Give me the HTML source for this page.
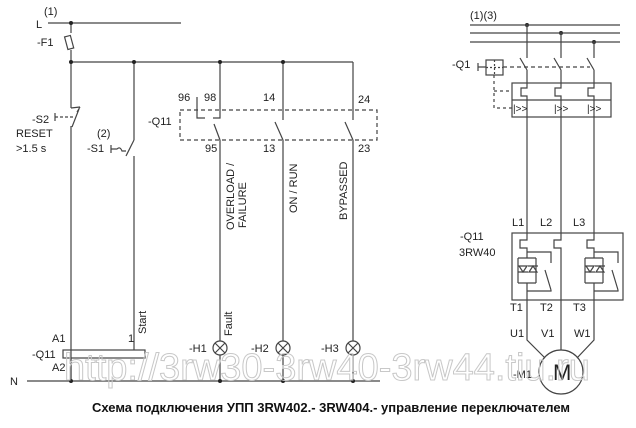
<!DOCTYPE html>
<html><head><meta charset="utf-8"><style>
body{margin:0;background:#fff;width:636px;height:428px;overflow:hidden}
svg{display:block}
text{font-family:"Liberation Sans",sans-serif;font-size:11px;fill:#222}
.cap{font-family:"Liberation Sans Narrow","Liberation Sans",sans-serif;font-size:13px;font-weight:bold;fill:#111}
.wm{font-family:"Liberation Sans",sans-serif;font-size:38px;fill:none;stroke:#c8c8c8;stroke-width:1}
</style></head><body>
<svg width="636" height="428" viewBox="0 0 636 428" stroke="#444" stroke-width="1.2" fill="none">
<line x1="48" y1="23" x2="181" y2="23"/>
<line x1="71" y1="23" x2="71" y2="33"/>
<rect x="66" y="36" width="6" height="13" transform="rotate(-15 69 42)"/>
<line x1="71" y1="50" x2="71" y2="62"/>
<line x1="71" y1="62" x2="353" y2="62"/>
<line x1="71" y1="62" x2="71" y2="108"/>
<line x1="71" y1="108" x2="80" y2="107"/><line x1="80" y1="107" x2="77" y2="112"/>
<line x1="72" y1="127" x2="79" y2="109"/>
<line x1="55" y1="117" x2="75" y2="117" stroke-dasharray="3,2"/>
<line x1="55" y1="113" x2="55" y2="121"/>
<line x1="71" y1="126" x2="71" y2="381"/>
<line x1="134" y1="62" x2="134" y2="140"/>
<line x1="134" y1="140" x2="126" y2="156"/>
<path d="M111 145 L111 153 M111 149 L117 149 Q120 146 122 151 L126 151"/>
<line x1="134" y1="156" x2="134" y2="350"/>
<rect x="180" y="110" width="197" height="30" stroke-dasharray="4,3"/>
<path d="M197 97 L197 118 L205 118 M213 118 L220 118 L220 62"/>
<line x1="220" y1="140" x2="214" y2="124"/>
<line x1="220" y1="140" x2="220" y2="341"/>
<line x1="283" y1="62" x2="283" y2="120"/><line x1="283" y1="140" x2="275" y2="122"/>
<line x1="283" y1="140" x2="283" y2="341"/>
<line x1="353" y1="62" x2="353" y2="120"/><line x1="353" y1="140" x2="345" y2="122"/>
<line x1="353" y1="140" x2="353" y2="341"/>
<rect x="63" y="350" width="82" height="8"/>
<line x1="71" y1="358" x2="71" y2="381"/>
<g>
<circle cx="220" cy="348" r="7"/><path d="M215 343 L225 353 M225 343 L215 353"/>
<circle cx="283" cy="348" r="7"/><path d="M278 343 L288 353 M288 343 L278 353"/>
<circle cx="353" cy="348" r="7"/><path d="M348 343 L358 353 M358 343 L348 353"/>
<line x1="220" y1="355" x2="220" y2="381"/><line x1="283" y1="355" x2="283" y2="381"/><line x1="353" y1="355" x2="353" y2="381"/>
</g>
<line x1="27" y1="381" x2="380" y2="381"/>
<g fill="#222" stroke="none">
<circle cx="71" cy="23" r="2"/><circle cx="71" cy="62" r="2"/><circle cx="134" cy="62" r="2"/><circle cx="220" cy="62" r="2"/><circle cx="283" cy="62" r="2"/>
<circle cx="71" cy="381" r="2"/><circle cx="220" cy="381" r="2"/><circle cx="283" cy="381" r="2"/><circle cx="353" cy="381" r="2"/>
<circle cx="527" cy="25" r="2"/><circle cx="561" cy="33" r="2"/><circle cx="594" cy="42" r="2"/>
</g>
<line x1="470" y1="25" x2="620" y2="25"/><line x1="470" y1="33" x2="620" y2="33"/><line x1="470" y1="42" x2="620" y2="42"/>
<g>
<path d="M527 25 L527 58 M527 70 L520 58 M527 70 L527 83"/>
<path d="M561 33 L561 58 M561 70 L554 58 M561 70 L561 83"/>
<path d="M594 42 L594 58 M594 70 L587 58 M594 70 L594 83"/>
</g>
<rect x="486" y="60" width="17" height="15"/><path d="M494.5 60 V75 M486 67.5 H503" stroke-dasharray="2,2"/>
<path d="M478 63 V71 M478 67 H486"/>
<path d="M503 67 H590" stroke-dasharray="4,3"/>
<path d="M494 75 V108 H512 M494 91 H512" stroke-dasharray="3,3"/>
<rect x="512" y="83" width="99" height="34"/><line x1="512" y1="100" x2="611" y2="100"/>
<path d="M527 83 V88 H521 V96 H527 V117 M561 83 V88 H555 V96 H561 V117 M594 83 V88 H588 V96 H594 V117"/>
<line x1="527" y1="117" x2="527" y2="233"/><line x1="561" y1="117" x2="561" y2="233"/><line x1="594" y1="117" x2="594" y2="233"/>
<rect x="512" y="233" width="111" height="67"/>
<path d="M527 233 V240 H520 V248 H527 V258 M527 283 V300 M561 233 V240 H554 V248 H561 V300 M594 233 V240 H587 V248 H594 V258 M594 283 V300"/>
<path d="M518 258 H536 M518 283 H536 M518 258 V283 M536 258 V283 M519 266 L527 266 L523 272 Z M518 272 H528 M529 272 L537 272 L533 266 Z M528 266 H538"/>
<path d="M527 252 H551 V263 M551 290 L545 270 M551 290 V291 H527"/>
<path d="M585 258 H603 M585 283 H603 M585 258 V283 M603 258 V283 M586 266 L594 266 L590 272 Z M585 272 H595 M596 272 L604 272 L600 266 Z M595 266 H605"/>
<path d="M594 252 H618 V263 M618 290 L612 270 M618 290 V291 H594"/>
<path d="M527 300 V340 L545 358 M561 300 V350 M594 300 V340 L577 358"/>
<circle cx="561" cy="372" r="22"/>
<g stroke="none">
<text x="36" y="28">L</text><text x="44" y="15">(1)</text><text x="37" y="46">-F1</text>
<text x="32" y="123">-S2</text><text x="16" y="137">RESET</text><text x="16" y="152">&gt;1.5 s</text>
<text x="97" y="137">(2)</text><text x="87" y="152">-S1</text>
<text x="178" y="101">96</text><text x="204" y="101">98</text><text x="263" y="101">14</text><text x="358" y="103">24</text>
<text x="148" y="125">-Q11</text>
<text x="205" y="152">95</text><text x="263" y="152">13</text><text x="358" y="152">23</text>
<text transform="translate(234,230) rotate(-90)">OVERLOAD /</text>
<text transform="translate(246,228) rotate(-90)">FAILURE</text>
<text transform="translate(297,213) rotate(-90)">ON / RUN</text>
<text transform="translate(347,220) rotate(-90)">BYPASSED</text>
<text transform="translate(146,334) rotate(-90)">Start</text>
<text transform="translate(232,336) rotate(-90)">Fault</text>
<text x="52" y="342">A1</text><text x="128" y="342">1</text>
<text x="32" y="358">-Q11</text><text x="52" y="371">A2</text>
<text x="10" y="385">N</text>
<text x="189" y="352">-H1</text><text x="251" y="352">-H2</text><text x="321" y="352">-H3</text>
<text x="470" y="19">(1)(3)</text><text x="452" y="68">-Q1</text>
<text x="513" y="112" style="font-size:10px">|&gt;&gt;</text><text x="554" y="112" style="font-size:10px">|&gt;&gt;</text><text x="587" y="112" style="font-size:10px">|&gt;&gt;</text>
<text x="512" y="226">L1</text><text x="540" y="226">L2</text><text x="573" y="226">L3</text>
<text x="460" y="240">-Q11</text><text x="459" y="256">3RW40</text>
<text x="510" y="311">T1</text><text x="540" y="311">T2</text><text x="573" y="311">T3</text>
<text x="510" y="337">U1</text><text x="541" y="337">V1</text><text x="574" y="337">W1</text>
<text x="513" y="378">-M1</text>
<text x="553" y="380" style="font-size:22px">M</text>
<text class="cap" x="92" y="412">Схема подключения УПП 3RW402.- 3RW404.- управление переключателем</text>
</g>
<text class="wm" x="64" y="380">http://3rw30-3rw40-3rw44.tiu.ru</text>
</svg>
</body></html>
